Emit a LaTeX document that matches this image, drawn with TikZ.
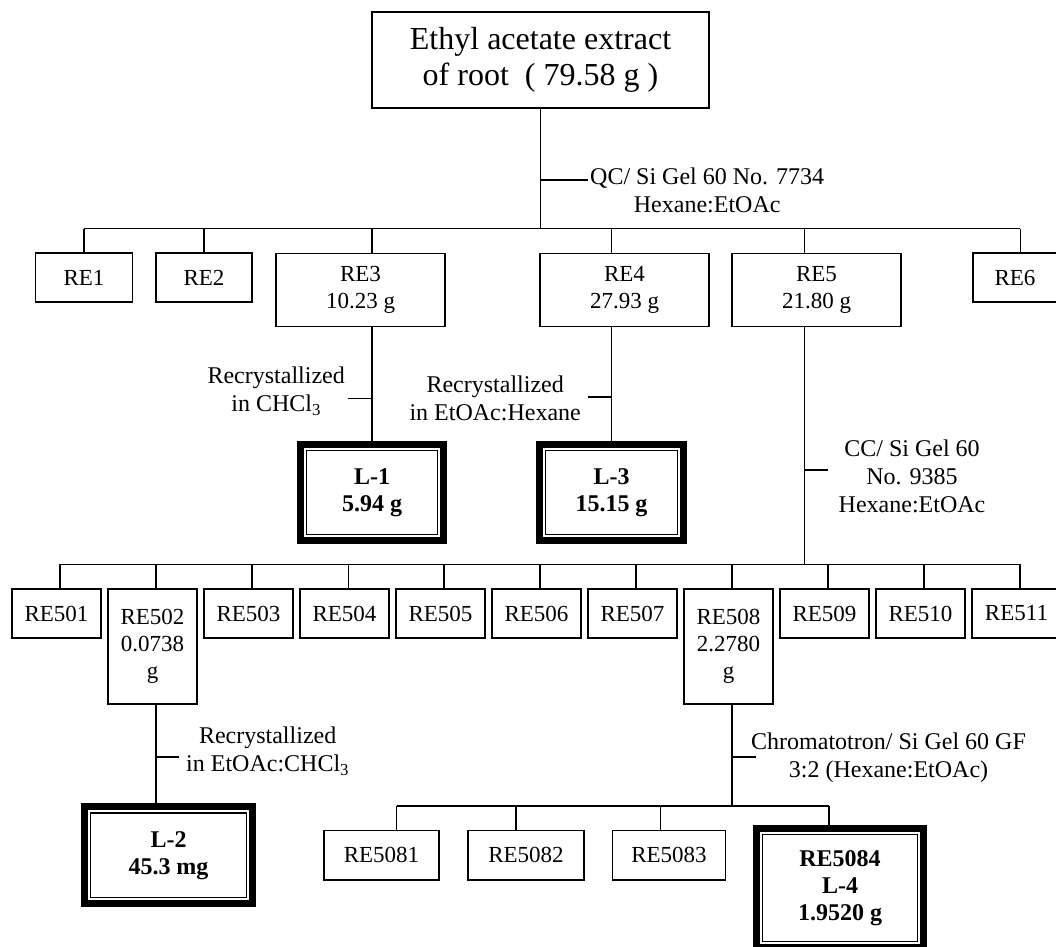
\documentclass[tikz,border=0pt]{standalone}
\usepackage{fontspec}
\setmainfont{Liberation Serif}
\usetikzlibrary{calc}
\begin{document}
\begin{tikzpicture}[x=1pt,y=-1pt,
  box/.style={draw, line width=1.2pt, inner sep=0pt, align=center, font=\fontsize{23}{27}\selectfont},
  lbl/.style={inner sep=0pt, align=center, font=\fontsize{24}{28}\selectfont},
  outerframe/.style={draw, line width=7pt, inner sep=0pt},
  innerframe/.style={draw, line width=1.3pt, inner sep=0pt, align=center, font=\fontsize{24}{27}\selectfont\bfseries},
  conn/.style={line width=1.2pt}]
\useasboundingbox (0,0) rectangle (1056,946);

% ---------- top ----------
\node[box, minimum width=337pt, minimum height=96pt, font=\fontsize{32}{36}\selectfont] (top) at (540.5,60) {Ethyl acetate extract\\of root\ \ ( 79.58 g )};

% ---------- first row ----------
\node[box, minimum width=97pt, minimum height=49pt] (RE1) at (84,277.5) {RE1};
\node[box, minimum width=96pt, minimum height=49pt] (RE2) at (204,277.5) {RE2};
\node[box, minimum width=169pt, minimum height=73.5pt] (RE3) at (360.5,290) {RE3\\10.23 g};
\node[box, minimum width=169pt, minimum height=73.5pt] (RE4) at (624.5,290) {RE4\\27.93 g};
\node[box, minimum width=169pt, minimum height=73.5pt] (RE5) at (816.5,290) {RE5\\21.80 g};
\node[box, minimum width=84pt, minimum height=49pt] (RE6) at (1015,277.5) {RE6};

% ---------- L-1, L-3 ----------
\node[outerframe, minimum width=143pt, minimum height=96pt] (L1o) at (372,492.5) {};
\node[innerframe, minimum width=130.6pt, minimum height=83.6pt] (L1) at (L1o) {L-1\\5.94 g};
\node[outerframe, minimum width=144pt, minimum height=96pt] (L3o) at (611.5,492.5) {};
\node[innerframe, minimum width=131.6pt, minimum height=83.6pt] (L3) at (L3o) {L-3\\15.15 g};

% ---------- second row ----------
\node[box, minimum width=89pt, minimum height=49pt] (RE501) at (56.5,613.5) {RE501};
\node[box, minimum width=89pt, minimum height=115pt] (RE502) at (152.5,646.5) {RE502\\0.0738\\g};
\node[box, minimum width=89pt, minimum height=49pt] (RE503) at (248.5,613.5) {RE503};
\node[box, minimum width=89pt, minimum height=49pt] (RE504) at (344.5,613.5) {RE504};
\node[box, minimum width=89pt, minimum height=49pt] (RE505) at (440.5,613.5) {RE505};
\node[box, minimum width=89pt, minimum height=49pt] (RE506) at (536.5,613.5) {RE506};
\node[box, minimum width=89pt, minimum height=49pt] (RE507) at (632.5,613.5) {RE507};
\node[box, minimum width=89pt, minimum height=115pt] (RE508) at (728.5,646.5) {RE508\\2.2780\\g};
\node[box, minimum width=89pt, minimum height=49pt] (RE509) at (824.5,613.5) {RE509};
\node[box, minimum width=89pt, minimum height=49pt] (RE510) at (920.5,613.5) {RE510};
\node[box, minimum width=89pt, minimum height=49pt] (RE511) at (1016.5,613.5) {RE511};

% ---------- L-2 ----------
\node[outerframe, minimum width=168pt, minimum height=96.6pt] (L2o) at (168.5,855.2) {};
\node[innerframe, minimum width=155.6pt, minimum height=84.2pt] (L2) at (L2o) {L-2\\45.3 mg};

% ---------- third row ----------
\node[box, minimum width=115pt, minimum height=49.6pt] (RE5081) at (381.5,855.2) {RE5081};
\node[box, minimum width=116pt, minimum height=49.6pt] (RE5082) at (526,855.2) {RE5082};
\node[box, minimum width=113pt, minimum height=49.6pt] (RE5083) at (669,855.2) {RE5083};
\node[outerframe, minimum width=167pt, minimum height=119pt] (L4o) at (840,888) {};
\node[innerframe, minimum width=154.6pt, minimum height=106.6pt] (L4) at (L4o) {RE5084\\L-4\\1.9520 g};

% ---------- labels ----------
\node[lbl, anchor=west] (q1) at (590,190) {QC/ Si Gel 60 No. 7734\\Hexane:EtOAc};
\node[lbl, anchor=east] (q2) at (345,391.5) {Recrystallized\\in CHCl\textsubscript{3}};
\node[lbl, anchor=east] (q3) at (581,398) {Recrystallized\\in EtOAc:Hexane};
\node[lbl] (q4) at (912,476) {CC/ Si Gel 60\\No. 9385\\Hexane:EtOAc};
\node[lbl, anchor=west] (q5) at (186,751) {Recrystallized\\in EtOAc:CHCl\textsubscript{3}};
\node[lbl, anchor=west] (q6) at (751,758) {Chromatotron/ Si Gel 60 GF\\3:2 (Hexane:EtOAc)};

% ---------- connectors: level 1 ----------
\coordinate (bA) at (84,228.5);
\coordinate (bB) at (1020.4,228.5);
\coordinate (t0) at (588,180);
\draw[conn] (top.south) -- (top.south |- bA);
\draw[conn] (t0) -- (t0 -| top.south);
\draw[conn] (bA) -- (bB);
\draw[conn] (bA) -- (RE1.north);
\draw[conn] (bA -| RE2.north) -- (RE2.north);
\draw[conn] (bA -| L1o.north) -- (RE3.north -| L1o.north);
\draw[conn] (bA -| L3o.north) -- (RE4.north -| L3o.north);
\coordinate (j5) at (804.4,564.3);
\draw[conn] (bA -| j5) -- (RE5.north -| j5);
\draw[conn] (bB) -- (RE6.north -| bB);

% RE3 -> L-1, RE4 -> L-3
\coordinate (t3) at (348,398.5);
\coordinate (t4) at (588,397);
\draw[conn] (RE3.south -| L1o.north) -- (L1o.north);
\draw[conn] (t3) -- (t3 -| L1o.north);
\draw[conn] (RE4.south -| L3o.north) -- (L3o.north);
\draw[conn] (t4) -- (t4 -| L3o.north);

% RE5 -> second row
\coordinate (t5) at (828,470);
\draw[conn] (RE5.south -| j5) -- (j5);
\draw[conn] (t5) -- (t5 -| j5);
\coordinate (cA) at (60,564.3);
\coordinate (cB) at (1020,564.3);
\draw[conn] (cA) -- (cB);
\foreach \x/\n in {60/RE501,156/RE502,252/RE503,348.5/RE504,444/RE505,540/RE506,636/RE507,732/RE508,828/RE509,924/RE510,1020/RE511}{
  \coordinate (k\n) at (\x,564.3);
  \draw[conn] (k\n) -- (k\n |- \n.north);
}

% RE502 -> L-2
\coordinate (t6) at (179,757);
\draw[conn] (RE502.south -| kRE502) -- (L2o.north -| kRE502);
\draw[conn] (t6) -- (t6 -| kRE502);

% RE508 -> third row
\coordinate (dA) at (396.5,806);
\coordinate (dB) at (829,806);
\coordinate (t7) at (755.6,757);
\draw[conn] (RE508.south -| kRE508) -- (dA -| kRE508);
\draw[conn] (t7) -- (t7 -| kRE508);
\draw[conn] (dA) -- (dB);
\draw[conn] (dA) -- (dA |- RE5081.north);
\coordinate (d2) at (516,806);
\coordinate (d3) at (660.7,806);
\draw[conn] (d2) -- (d2 |- RE5082.north);
\draw[conn] (d3) -- (d3 |- RE5083.north);
\draw[conn] (dB) -- (dB |- L4o.north);
\end{tikzpicture}
\end{document}
